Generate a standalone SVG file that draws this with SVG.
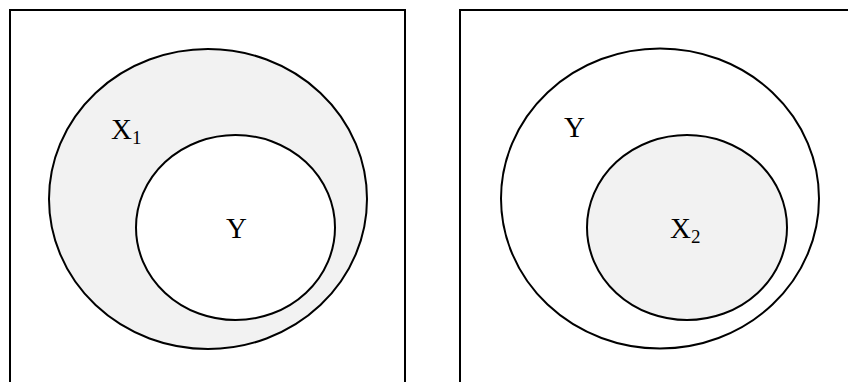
<svg xmlns="http://www.w3.org/2000/svg" width="848" height="382" viewBox="0 0 848 382">
<style>
.frame{fill:none;stroke:#000;stroke-width:2}
.ell{stroke:#000;stroke-width:2}
.shade{fill:#f2f2f2}
.blank{fill:#fff}
text{font-family:"Liberation Serif","Times New Roman",serif;font-size:29px;fill:#000}
.sub{font-size:19px}
</style>
<rect width="848" height="382" fill="#fff"/>
<g id="left-panel">
<rect class="frame" x="10" y="10" width="395" height="390"/>
<g id="X1">
<ellipse class="ell shade" cx="208" cy="199" rx="159" ry="150"/>
<text x="111" y="139">X<tspan class="sub" dy="5">1</tspan></text>
</g>
<g id="Y-left">
<ellipse class="ell blank" cx="235.5" cy="227.5" rx="99.5" ry="92.5"/>
<text x="226" y="238">Y</text>
</g>
</g>
<g id="right-panel">
<rect class="frame" x="460" y="10" width="400" height="390"/>
<g id="Y-right">
<ellipse class="ell blank" cx="660" cy="198.5" rx="159" ry="150"/>
<text x="564" y="137">Y</text>
</g>
<g id="X2">
<ellipse class="ell shade" cx="687" cy="227.5" rx="100" ry="92.5"/>
<text x="670" y="238">X<tspan class="sub" dy="5">2</tspan></text>
</g>
</g>
<g id="connectors"/>
</svg>
